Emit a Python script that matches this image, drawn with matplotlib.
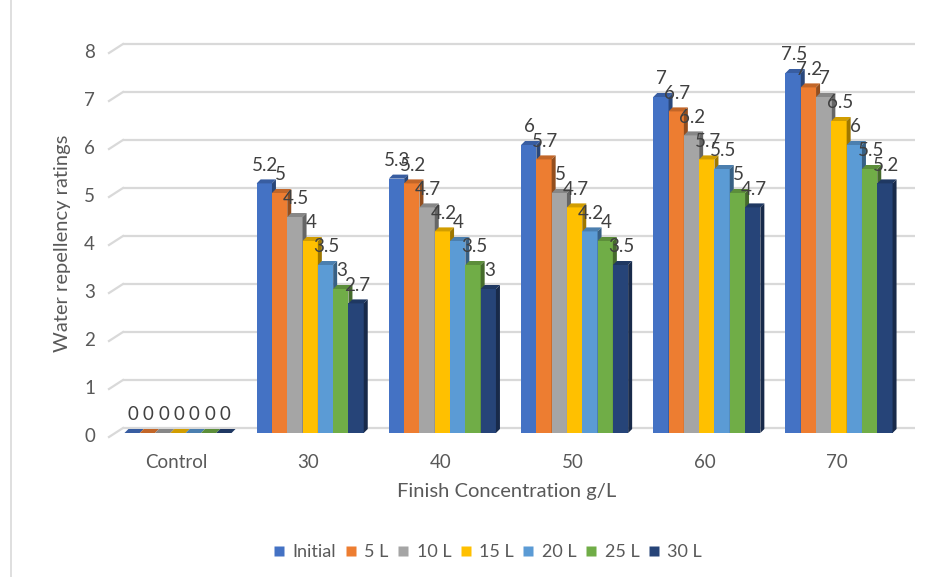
import matplotlib.pyplot as plt
from matplotlib.patches import Polygon
from matplotlib.lines import Line2D
import matplotlib.colors as mcolors

plt.rcParams['font.family'] = ['Lato', 'DejaVu Sans']

categories = ['Control', '30', '40', '50', '60', '70']
series = ['Initial', '5 L', '10 L', '15 L', '20 L', '25 L', '30 L']
values = {
    'Initial': [0, 5.2, 5.3, 6, 7, 7.5],
    '5 L':     [0, 5, 5.2, 5.7, 6.7, 7.2],
    '10 L':    [0, 4.5, 4.7, 5, 6.2, 7],
    '15 L':    [0, 4, 4.2, 4.7, 5.7, 6.5],
    '20 L':    [0, 3.5, 4, 4.2, 5.5, 6],
    '25 L':    [0, 3, 3.5, 4, 5, 5.5],
    '30 L':    [0, 2.7, 3, 3.5, 4.7, 5.2],
}
colors = ['#4472C4', '#ED7D31', '#A5A5A5', '#FFC000', '#5B9BD5', '#70AD47', '#264478']
yticks = [0, 1, 2, 3, 4, 5, 6, 7, 8]

W, H = 941, 577
fig = plt.figure(figsize=(W / 100, H / 100), dpi=100)

# axes placed in pixel terms: category i centred at 178 + 132.2*i, value v at 433 - 48*v
px_cat, px_val = 132.2, 48.0
L, R, T, B = 100, 930, 20, 470
ax = fig.add_axes([L / W, 1 - B / H, (R - L) / W, (B - T) / H])
ax.set_xlim((L - 178) / px_cat, (R - 178) / px_cat)
ax.set_ylim((433 - B) / px_val, (433 - T) / px_val)
ax.axis('off')

# pseudo-3d offsets (data units)
ddx, ddy = 4 / px_cat, 4 / px_val           # bar depth
back_dy = 5 / px_val                        # back wall above bar plane
front_dy = -4 / px_val                      # floor front edge below bar plane
x_front, x_back, x_end = (109 - 178) / px_cat, (123 - 178) / px_cat, (915 - 178) / px_cat

grid_c = '#D9D9D9'
txt_c = '#595959'
for v in yticks:
    ax.plot([x_back, x_end], [v + back_dy, v + back_dy], color=grid_c, lw=1.6, zorder=1,
            solid_capstyle='butt')
    ax.plot([x_front, x_back], [v + front_dy, v + back_dy], color=grid_c, lw=1.6, zorder=1)
    ax.text(x_front - 14 / px_cat, v + front_dy, str(v), ha='right', va='center',
            fontsize=13.5, color=txt_c)

n = len(series)
bw = 15.3 / px_cat
for i, cat in enumerate(categories):
    ax.text(i - 2 / px_cat, (433 - 462) / px_val, cat, ha='center', va='center',
            fontsize=13.5, color=txt_c)

for j, (name, col) in enumerate(zip(series, colors)):
    rgb = mcolors.to_rgb(col)
    top_c = tuple(c * 0.82 for c in rgb)
    side_c = tuple(c * 0.62 for c in rgb)
    for i, v in enumerate(values[name]):
        x0 = i - n * bw / 2 + j * bw
        z = 3 + j * 0.01
        ax.bar(x0, v, width=bw, align='edge', color=col, lw=0, zorder=z)
        ax.add_patch(Polygon([(x0, v), (x0 + bw, v), (x0 + bw + ddx, v + ddy), (x0 + ddx, v + ddy)],
                             closed=True, fc=top_c, ec='none', zorder=z))
        ax.add_patch(Polygon([(x0 + bw, 0), (x0 + bw + ddx, ddy), (x0 + bw + ddx, v + ddy), (x0 + bw, v)],
                             closed=True, fc=side_c, ec='none', zorder=z))
        ax.text(x0 + bw / 2 + 1 / px_cat, v + 18 / px_val, f'{v:g}', ha='center', va='center',
                fontsize=13.5, color='#404040', zorder=10)

fig.text(507 / W, 1 - 492 / H, 'Finish Concentration g/L', ha='center', va='center',
         fontsize=14.5, color=txt_c)
fig.text(63 / W, 1 - 243 / H, 'Water repellency ratings', ha='center', va='center',
         rotation=90, fontsize=14.5, color=txt_c)

handles = [Line2D([], [], marker='s', ls='none', markersize=7.5, markerfacecolor=c,
                  markeredgecolor='none') for c in colors]
fig.legend(handles, series, loc='center', bbox_to_anchor=(486 / W, 1 - 552 / H), ncol=7,
           frameon=False, fontsize=13, labelcolor=txt_c, handletextpad=0.25,
           columnspacing=0.3, handlelength=1.0)

# chart area border on the left
fig.add_artist(Line2D([10.5 / W, 10.5 / W], [0, 1], color=grid_c, lw=1.2))

fig.savefig('out.png', dpi=100)
